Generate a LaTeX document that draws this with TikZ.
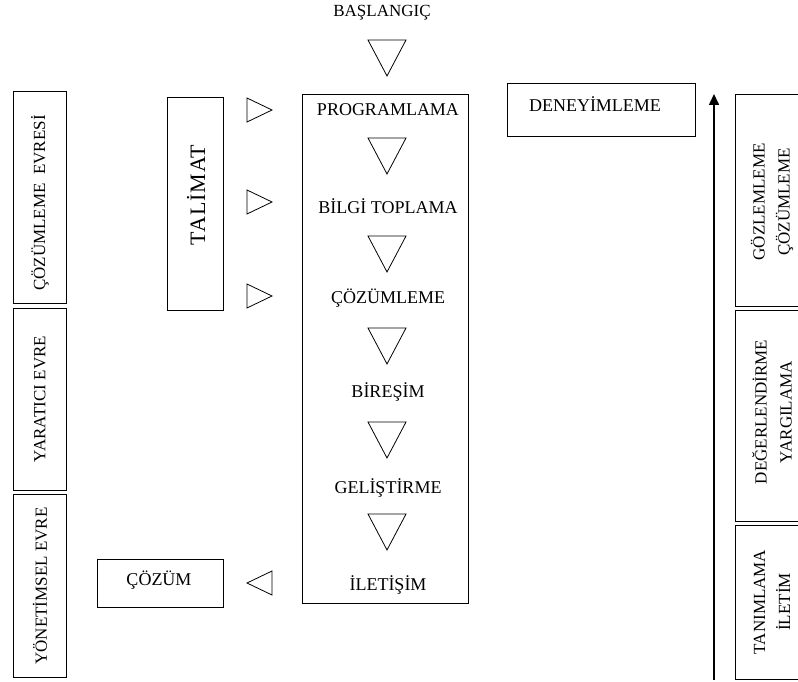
\documentclass[tikz,border=0pt]{standalone}
\usepackage{fontspec}
\setmainfont{Liberation Serif}
\usetikzlibrary{arrows.meta}
\tikzset{
  box/.style={draw, line width=1pt},
  tri/.style={draw, line width=0.8pt, line join=miter},
  item/.style={font=\fontsize{18}{22}\selectfont},
  side/.style={font=\fontsize{17}{25}\selectfont, rotate=90, align=center},
}
\begin{document}
\begin{tikzpicture}[x=1pt, y=-1pt]
    \useasboundingbox (0,0) rectangle (798,682);
    \clip (0,0) rectangle (798,682);
    % Start and main column
    \node[item, font=\fontsize{17}{20}\selectfont] (start) at (382,13) {BAŞLANGIÇ};
    \draw[box] (302,95) rectangle (468,603);
    \node[item] (prog) at (388,110) {PROGRAMLAMA};
    \node[item] (bilgi) at (388,206) {BİLGİ TOPLAMA};
    \node[item] (cozum) at (388,298) {ÇÖZÜMLEME};
    \node[item] (bires) at (388,392) {BİREŞİM};
    \node[item] (gelis) at (388,488) {GELİŞTİRME};
    \node[item] (ileti) at (388,585) {İLETİŞİM};
    % Down triangles
    \foreach \y in {40, 138, 236, 328, 422, 514} {
        \draw[tri] (368,\y) -- (406,\y) -- (387,\y+36) -- cycle;
    }
    % Instruction box and right triangles
    \draw[box] (167,98) rectangle (223,310);
    \node[rotate=90, font=\fontsize{22}{26}\selectfont\addfontfeatures{LetterSpace=4}] (talimat) at (196,195) {TALİMAT};
    \foreach \y in {110, 202, 296} {
        \draw[tri] (247,\y-12) -- (272,\y) -- (247,\y+12) -- cycle;
    }
    % Solution
    \draw[box] (97,559) rectangle (223,607);
    \node[item] (sonuc) at (159,580) {ÇÖZÜM};
    \draw[tri] (272,571) -- (247,583) -- (272,595) -- cycle;
    % Left phases
    \draw[box] (13,92) rectangle (66,303);
    \node[side] (evre1) at (40,203) {ÇÖZÜMLEME\ \ EVRESİ};
    \draw[box] (13,308) rectangle (66,490);
    \node[side] (evre2) at (40,399) {YARATICI EVRE};
    \draw[box] (13,494) rectangle (66,677);
    \node[side] (evre3) at (40,586) {YÖNETİMSEL EVRE};
    % Experience box and arrow
    \draw[box] (507,84) rectangle (695,137);
    \node[item] (deney) at (595,104) {DENEYİMLEME};
    \coordinate (ok-alt) at (714,680);
    \coordinate (ok-ust) at (714,94);
    \draw[line width=1.6pt, -{Triangle[length=11pt, width=10pt]}] (ok-alt) -- (ok-ust);
    % Right phases
    \draw[box] (735,95) rectangle (820,306);
    \node[side] (sag1) at (772,202) {GÖZLEMLEME\\ÇÖZÜMLEME};
    \draw[box] (735,310) rectangle (820,521);
    \node[side] (sag2) at (772,412) {DEĞERLENDİRME\\YARGILAMA};
    \draw[box] (735,525) rectangle (820,679);
    \node[side] (sag3) at (772,602) {TANIMLAMA\\İLETİM};
\end{tikzpicture}
\end{document}
